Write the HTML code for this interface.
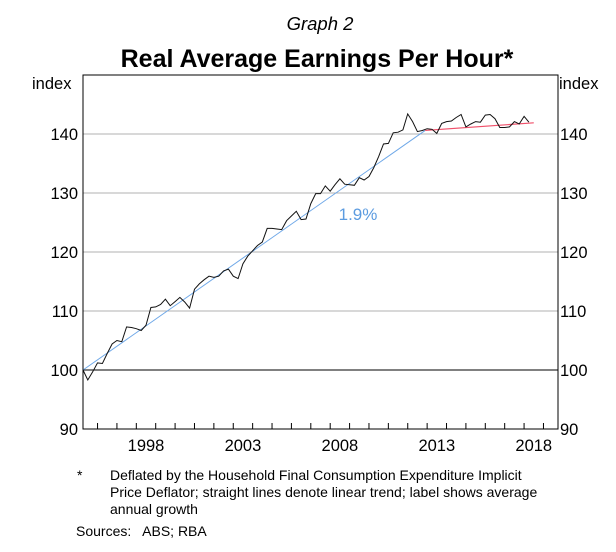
<!DOCTYPE html>
<html><head><meta charset="utf-8"><style>
body{margin:0;background:#fff;font-family:"Liberation Sans",Arial,sans-serif}
svg text{font-family:"Liberation Sans",Arial,sans-serif}
</style></head><body>
<svg id="chart" width="616" height="547" viewBox="0 0 616 547">
<text x="320" y="30" font-size="18.5" font-style="italic" text-anchor="middle">Graph 2</text>
<text x="317" y="67" font-size="25" font-weight="bold" text-anchor="middle">Real Average Earnings Per Hour*</text>
<text x="32" y="89" font-size="16.5">index</text>
<text x="559" y="89" font-size="16.5">index</text>
<g id="grid"></g><g id="series"></g><g id="axes"></g>
<text x="358" y="220" font-size="17" fill="#5b9be0" text-anchor="middle">1.9%</text>
<text x="77" y="480" font-size="14">*</text>
<text font-size="14"><tspan x="110" y="480">Deflated by the Household Final Consumption Expenditure Implicit</tspan><tspan x="110" y="497">Price Deflator; straight lines denote linear trend; label shows average</tspan><tspan x="110" y="514">annual growth</tspan></text>
<text x="76" y="536" font-size="14">Sources:&#160;&#160; ABS; RBA</text>
</svg>
<script>
const earnings=[100.0,98.3,99.7,101.2,101.1,102.8,104.4,105.0,104.8,107.3,107.2,107.0,106.7,107.6,110.6,110.7,111.1,112.0,110.9,111.6,112.3,111.5,110.5,113.7,114.6,115.3,115.9,115.7,115.9,116.8,117.1,115.9,115.5,118.0,119.3,120.2,121.1,121.7,124.0,124.0,123.9,123.8,125.3,126.1,126.9,125.5,125.6,128.2,129.9,129.9,131.2,130.3,131.4,132.4,131.5,131.4,131.3,132.6,132.2,132.8,134.3,136.2,138.3,138.4,140.2,140.3,140.7,143.4,142.1,140.4,140.6,140.9,140.8,140.1,141.8,142.1,142.2,142.8,143.3,141.2,141.7,142.1,142.0,143.2,143.3,142.6,141.1,141.1,141.2,142.1,141.7,143.0,142.0];
const startYear=1995.25;
const trendYears=[1995.25,2012.9];
const trendValues=[100.0,140.6];
const recentTrendYears=[2012.9,2018.5];
const recentTrendValues=[140.6,141.9];
const yTicks=[90,100,110,120,130,140];
const xLabels=[1998,2003,2008,2013,2018];
const L=83,R=558,T=75,B=429,x0=1995.25,x1=2019.75,yMin=90,yMax=150;
const X=v=>L+(v-x0)/(x1-x0)*(R-L), Y=v=>B-(v-yMin)/(yMax-yMin)*(B-T);
const NS="http://www.w3.org/2000/svg";
function mk(p,t,a){const e=document.createElementNS(NS,t);for(const k in a)e.setAttribute(k,a[k]);p.appendChild(e);return e;}
const grid=document.getElementById('grid'),ser=document.getElementById('series'),ax=document.getElementById('axes');
yTicks.forEach(v=>{
 if(v>yMin){const l=mk(grid,'line',{x1:L,x2:R,y1:Y(v),y2:Y(v),stroke:v===100?'#000':'#b0b0b0','stroke-width':1});
 
 }
 const a=mk(ax,'text',{x:L-5,y:Y(v)+6,'font-size':16.5,'text-anchor':'end'});a.textContent=v;
 
 
 const b=mk(ax,'text',{x:R+2,y:Y(v)+6,'font-size':16.5});b.textContent=v;
 
 
});
for(let yr=1996;yr<=2019;yr++){const t=mk(ax,'line',{x1:X(yr),x2:X(yr),y1:B,y2:B-6,stroke:'#000'});
 
 }
xLabels.forEach(yr=>{const t=mk(ax,'text',{x:X(yr+0.5),y:B+22,'font-size':16.5,'text-anchor':'middle'});t.textContent=yr;
 
 });
const box=mk(ax,'rect',{x:L,y:T,width:R-L,height:B-T,fill:'none',stroke:'#000','stroke-width':1});


const t1=mk(ser,'line',{x1:X(trendYears[0]),y1:Y(trendValues[0]),x2:X(trendYears[1]),y2:Y(trendValues[1]),stroke:'#6fa8e8','stroke-width':1});


const t2=mk(ser,'line',{x1:X(recentTrendYears[0]),y1:Y(recentTrendValues[0]),x2:X(recentTrendYears[1]),y2:Y(recentTrendValues[1]),stroke:'#f0506a','stroke-width':1.2});


const pts=earnings.map((v,i)=>X(startYear+i*0.25).toFixed(1)+','+Y(v).toFixed(1)).join(' ');
const pl=mk(ser,'polyline',{points:pts,fill:'none',stroke:'#111','stroke-width':1});


</script>
</body></html>
